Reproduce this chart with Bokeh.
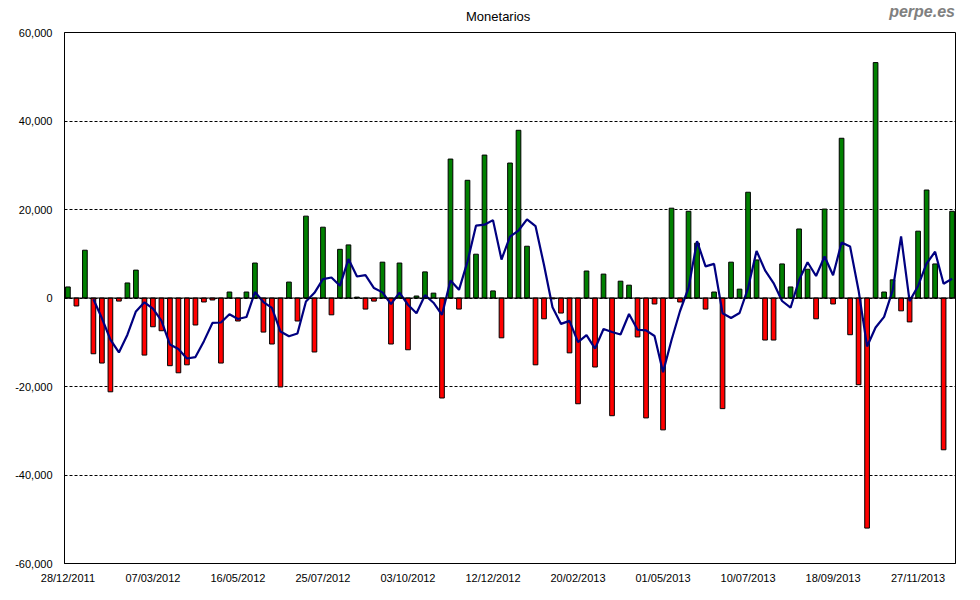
from bokeh.plotting import figure
from bokeh.models import ColumnDataSource, FixedTicker, NumeralTickFormatter, Span, Range1d, Div
from bokeh.layouts import column
from bokeh.embed import file_html
from bokeh.resources import INLINE

chart_title = "Monetarios"
watermark = "perpe.es"

# x tick labels, one every 10 weeks (week index 0, 10, ..., 100)
tick_weeks = [0, 10, 20, 30, 40, 50, 60, 70, 80, 90, 100]
tick_labels = ["28/12/2011", "07/03/2012", "16/05/2012", "25/07/2012", "03/10/2012",
               "12/12/2012", "20/02/2013", "01/05/2013", "10/07/2013", "18/09/2013",
               "27/11/2013"]

# weekly values (one bar per week, starting 28/12/2011)
weekly = [2500, -1800, 10800, -12600, -14700, -21200, -700, 3400, 6300, -12900,
          -6500, -7400, -15300, -16900, -15100, -6100, -900, -450, -14700, 1350,
          -5200, 1350, 7900, -7700, -10400, -20100, 3600, -5200, 18500, -12200,
          16000, -3800, 11000, 12000, 200, -2500, -700, 8100, -10400, 7900,
          -11700, 450, 5900, 1100, -22600, 31400, -2500, 26600, 9900, 32300,
          1600, -9000, 30500, 37900, 11700, -15100, -4700, -200, -3400, -12400,
          -23900, 6100, -15600, 5400, -26600, 3800, 2900, -8800, -27100, -1350,
          -29800, 20300, -900, 19600, 12400, -2500, 1350, -25000, 8100, 2000,
          23900, 8600, -9500, -9500, 7700, 2500, 15600, 6500, -4700, 20100,
          -1350, 36100, -8300, -19600, -52000, 53200, 1350, 4100, -2900, -5400,
          15100, 24400, 7700, -34300, 19600]

# 4-week average line (from week 3 on)
ma_4w = [-275, -4575, -9425, -12300, -8300, -3050, -975, -2425, -5125, -10525,
         -11525, -13675, -13350, -9750, -5638, -5538, -3675, -4750, -4300, 1350,
         -913, -2213, -7575, -8650, -8025, -800, 1175, 4275, 4625, 2750,
         8800, 4850, 5175, 2250, 1275, -1375, 1225, -1525, -3438, 638,
         -1063, -3788, 3950, 1850, 8225, 16350, 16575, 17600, 8700, 13850,
         15250, 17775, 16250, 7450, -2075, -5850, -5175, -9975, -8400, -11450,
         -7000, -7675, -8250, -3625, -7175, -7300, -8588, -16763, -9488, -2938,
         2300, 12850, 7150, 7713, -3438, -4513, -3388, 2250, 10650, 6250,
         3375, -675, -2200, 4075, 8075, 4975, 9375, 5138, 12538, 11638,
         1713, -10950, -6675, -4263, 1663, 13938, -713, 2725, 7800, 10450,
         3225, 4350]

weeks = list(range(len(weekly)))
ma_weeks = weeks[len(weekly) - len(ma_4w):]
colors = ["#008000" if v >= 0 else "#FF0000" for v in weekly]

src = ColumnDataSource(dict(x=weeks, v=weekly, c=colors))

header = Div(
    width=975, height=24, margin=0,
    text=(
        '<div style="position:relative;width:975px;height:24px;overflow:visible;">'
        '<span style="position:absolute;left:466px;top:9px;white-space:nowrap;'
        'font-family:\'Liberation Sans\';font-size:13px;line-height:15px;color:#000000;">'
        + chart_title + '</span>'
        '<span style="position:absolute;right:20px;top:3px;white-space:nowrap;'
        'font-family:\'Liberation Sans\';font-size:16px;line-height:18px;font-weight:bold;'
        'font-style:italic;color:#808080;">' + watermark + '</span>'
        '</div>'
    ),
)

p = figure(width=975, height=572, output_backend="svg", toolbar_location=None,
           x_range=Range1d(-0.4, 104.4), y_range=Range1d(-60000, 60000),
           min_border_left=64, min_border_right=20, min_border_top=8, min_border_bottom=33)
p.background_fill_color = "white"
p.border_fill_color = "white"
p.outline_line_color = "black"
p.outline_line_width = 1

p.vbar(x="x", top="v", width=0.55, fill_color="c", line_color="black", line_width=1, source=src)
p.add_layout(Span(location=0, dimension="width", line_color="black", line_width=1))
p.line(ma_weeks, ma_4w, line_color="#000080", line_width=2.2)

p.xgrid.grid_line_color = None
p.ygrid.grid_line_color = "black"
p.ygrid.grid_line_dash = "3 2"
p.ygrid.grid_line_width = 1

p.yaxis.ticker = FixedTicker(ticks=[-60000, -40000, -20000, 0, 20000, 40000, 60000])
p.yaxis.formatter = NumeralTickFormatter(format="0,0")
p.xaxis.ticker = FixedTicker(ticks=tick_weeks)
p.xaxis.major_label_overrides = {w: l for w, l in zip(tick_weeks, tick_labels)}

for ax in (p.xaxis[0], p.yaxis[0]):
    ax.axis_line_color = "black"
    ax.major_tick_line_color = None
    ax.minor_tick_line_color = None
    ax.major_tick_out = 0
    ax.major_tick_in = 0
    ax.major_label_text_font = "Liberation Sans"
    ax.major_label_text_font_size = "11px"
    ax.major_label_text_color = "black"
p.yaxis.major_label_standoff = 12
p.xaxis.major_label_standoff = 8

layout = column(header, p, spacing=0)

open("out.html", "w").write(file_html(layout, INLINE))
